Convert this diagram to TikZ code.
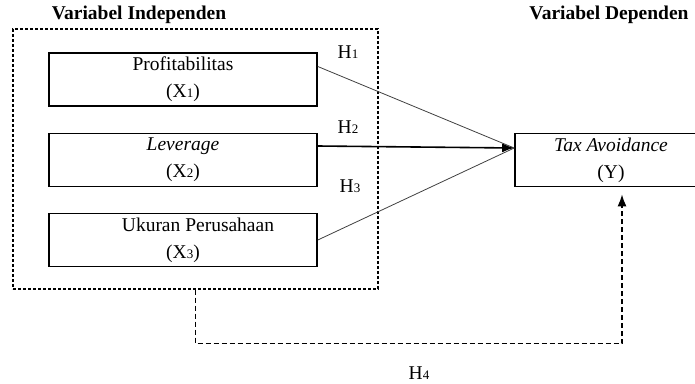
\documentclass[tikz,border=0pt]{standalone}
\usepackage{fontspec}
\setmainfont{Liberation Serif}
\usetikzlibrary{positioning, arrows.meta}
\newcommand{\lowsub}[1]{{\fontsize{13}{13}\selectfont #1}}
\tikzset{
  >={Latex[length=12pt,width=9pt]},
  every node/.style={font=\fontsize{19.5}{27}\selectfont},
  varbox/.style={draw, line width=1.6pt, minimum width=268pt, minimum height=53pt, align=center, inner sep=0pt},
  groupbox/.style={draw, line width=1.2pt, dash pattern=on 3pt off 2pt, minimum width=365pt, minimum height=260pt},
  heading/.style={font=\fontsize{19.5}{23}\selectfont\bfseries},
  thinline/.style={draw=black!75, line width=0.8pt},
  thickline/.style={line width=1.6pt},
  h4line/.style={line width=1.6pt, dash pattern=on 5pt off 3pt},
}

\begin{document}
\begin{tikzpicture}[x=1pt, y=-1pt]
      \useasboundingbox (0,0) rectangle (695,383);
      \node[groupbox] (grp) at (195.5,159) {};
      \node[heading] (tind) at (139,15) {Variabel Independen};
      \node[heading] (tdep) at (609,15) {Variabel Dependen};

      \node[varbox] (x1) at (183,79.5) {Profitabilitas\\(X\lowsub{1})};
      \node[varbox] (x2) at (183,160) {\textit{Leverage}\\(X\lowsub{2})};
      \node[varbox] (x3) at (183,240) {\hspace*{30pt}Ukuran Perusahaan\\(X\lowsub{3})};
      \node[varbox, minimum width=192pt] (y) at (611,160) {\textit{Tax Avoidance}\\(Y)};

      \coordinate (tip) at ([yshift=12pt]y.west);
      \draw[thinline] ([yshift=13pt]x1.east) -- (tip);
      \draw[thickline,->] ([yshift=14pt]x2.east) -- (tip);
      \draw[thinline] (x3.east) -- (tip);
      \draw[h4line,->] (grp.south) -- ++(0,54) -| ([xshift=11pt,yshift=-7pt]y.south);

      \node (h1) at (348,52) {H\lowsub{1}};
      \node (h2) at (348,127) {H\lowsub{2}};
      \node (h3) at (350,186) {H\lowsub{3}};
      \node (h4) at (419,373) {H\lowsub{4}};
    \end{tikzpicture}
\end{document}
